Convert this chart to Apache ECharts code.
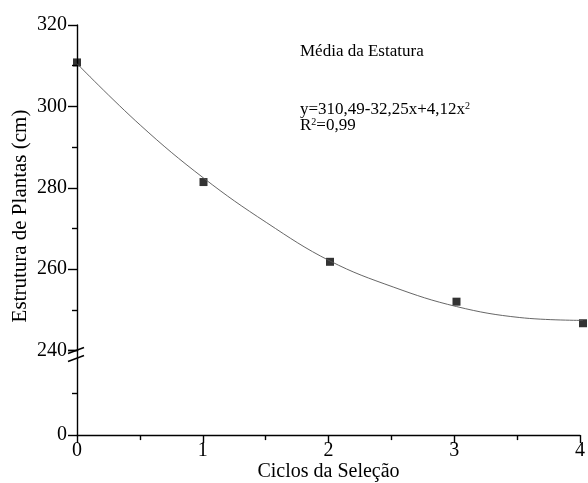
<!DOCTYPE html>
<html>
<head>
<meta charset="utf-8">
<script src="https://cdn.jsdelivr.net/npm/echarts@6/dist/echarts.min.js"></script>
<style>html,body{margin:0;padding:0;background:#fff}#c{width:588px;height:483px}</style>
</head>
<body>
<div id="c"></div>
<script>
// Observed means per selection cycle
const cycles = [0, 1, 2, 3, 4];
const heights = [310.8, 281.4, 261.8, 252.0, 246.7];
// Fitted curve
const curveX = [0, 0.5, 1, 1.5, 2, 2.5, 3, 3.5, 4];
const curveY = [310.5, 295.4, 282.4, 271.4, 262.0, 255.6, 250.8, 248.1, 247.4];
const upperTicks = [240, 260, 280, 300, 320];
const lowerTicks = [0];
const xTicks = [0, 1, 2, 3, 4];

const FONT = '"Liberation Serif", "DejaVu Serif", serif';
const chart = echarts.init(document.getElementById('c'));
const AX = {color: '#000', width: 1.4};
const axisLine = {show: true, lineStyle: AX};
const labelStyle = {color: '#000', fontFamily: FONT, fontSize: 20};

const option = {
  animation: false,
  backgroundColor: '#fff',
  grid: [
    {left: 77, right: 5, top: 25, height: 325.5},
    {left: 77, right: 5, top: 350.5, height: 87}
  ],
  xAxis: [
    {gridIndex: 0, type: 'value', min: xTicks[0], max: xTicks[xTicks.length - 1], interval: 1,
     axisLine: {show: false}, axisTick: {show: false}, axisLabel: {show: false}, splitLine: {show: false}},
    {gridIndex: 1, type: 'value', min: xTicks[0], max: xTicks[xTicks.length - 1], interval: 1,
     axisLine: axisLine,
     axisTick: {show: true, inside: false, length: 8, lineStyle: AX},
     minorTick: {show: true, splitNumber: 2, length: 5, lineStyle: AX},
     axisLabel: Object.assign({margin: 6, formatter: v => xTicks.includes(v) ? String(v) : ''}, labelStyle),
     splitLine: {show: false},
     name: 'Ciclos da Seleção', nameLocation: 'middle', nameGap: 25,
     nameTextStyle: {color: '#000', fontFamily: FONT, fontSize: 20, verticalAlign: 'top'}}
  ],
  yAxis: [
    {gridIndex: 0, type: 'value', min: upperTicks[0], max: upperTicks[upperTicks.length - 1], interval: 20,
     axisLine: axisLine,
     axisTick: {show: true, inside: false, length: 9, lineStyle: AX},
     minorTick: {show: true, splitNumber: 2, length: 5, lineStyle: AX},
     axisLabel: Object.assign({margin: 10, formatter: v => upperTicks.includes(v) ? String(v) : ''}, labelStyle),
     splitLine: {show: false}},
    {gridIndex: 1, type: 'value', min: 0, max: 240, interval: 240,
     axisLine: axisLine,
     axisTick: {show: true, inside: false, length: 9, lineStyle: AX},
     minorTick: {show: true, splitNumber: 2, length: 5, lineStyle: AX},
     axisLabel: Object.assign({margin: 10, showMaxLabel: false, formatter: v => lowerTicks.includes(v) ? String(v) : ''}, labelStyle),
     splitLine: {show: false}}
  ],
  series: [
    {type: 'line', xAxisIndex: 0, yAxisIndex: 0, data: curveX.map((x, i) => [x, curveY[i]]),
     smooth: 0.4, showSymbol: false, lineStyle: {color: '#555', width: 0.9}, silent: true},
    {type: 'scatter', xAxisIndex: 0, yAxisIndex: 0, data: cycles.map((x, i) => [x, heights[i]]),
     symbol: 'rect', symbolSize: 8, itemStyle: {color: '#000'}, clip: false}
  ]
};
chart.setOption(option);

// axis-break marks at the junction of the two segments
const p = chart.convertToPixel({gridIndex: 0}, [xTicks[0], upperTicks[0]]);
const sup = {fontSize: 10, fontFamily: FONT, padding: [0, 0, 8, 0]};
chart.setOption({graphic: [
  {type: 'text', left: 300, top: 43, style: {text: 'Média da Estatura', font: '17px ' + FONT, fill: '#000'}},
  {type: 'text', left: 300, top: 101, style: {
    text: 'y=310,49-32,25x+4,12x{s|2}', font: '17px ' + FONT, fill: '#000', rich: {s: sup}}},
  {type: 'text', left: 300, top: 117, style: {
    text: 'R{s|2}=0,99', font: '17px ' + FONT, fill: '#000', rich: {s: sup}}},
  {type: 'text', x: 20, y: 216, rotation: Math.PI / 2, style: {
    text: 'Estrutura de Plantas (cm)', font: '21px ' + FONT, fill: '#000', align: 'center', verticalAlign: 'middle'}},
  {type: 'line', shape: {x1: p[0] - 9, y1: p[1] + 3, x2: p[0] + 7, y2: p[1] - 3}, style: {stroke: '#000', lineWidth: 1.4}},
  {type: 'line', shape: {x1: p[0] - 9, y1: p[1] + 11, x2: p[0] + 7, y2: p[1] + 5}, style: {stroke: '#000', lineWidth: 1.4}}
]});
</script>
</body>
</html>
